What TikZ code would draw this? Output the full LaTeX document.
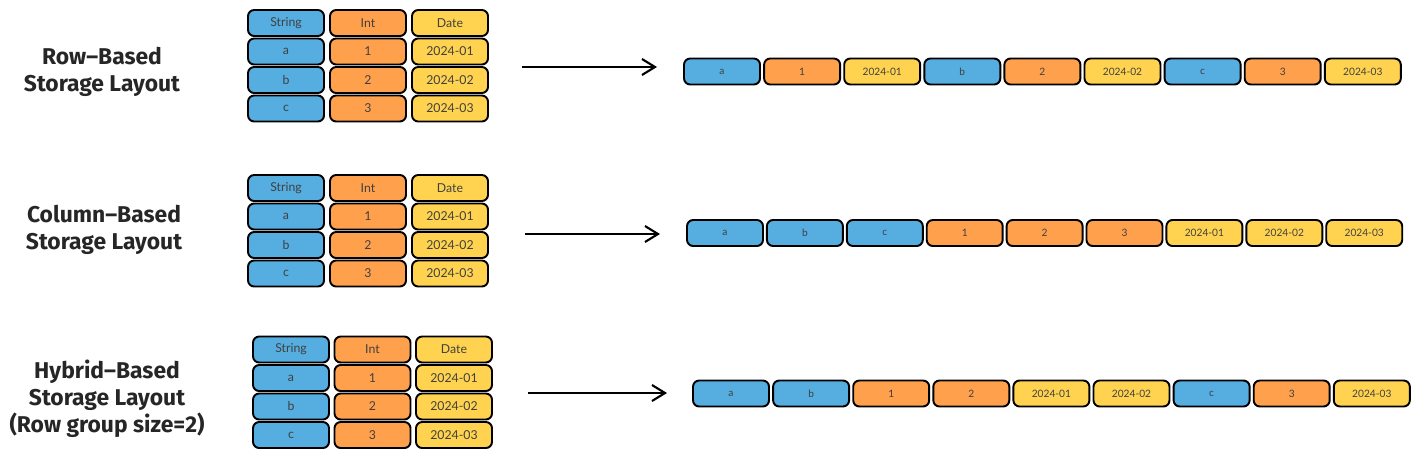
\documentclass[tikz,border=0pt]{standalone}
\usepackage{fontspec}
\setmainfont{Fira Sans}
\newfontfamily\cellfont{Lato}
\usetikzlibrary{arrows.meta,positioning}
\definecolor{cblue}{RGB}{86,173,224}
\definecolor{corange}{RGB}{255,160,76}
\definecolor{cyellow}{RGB}{255,211,79}

\begin{document}
\begin{tikzpicture}[
  x=0.02cm, y=-0.02cm,
  >={Straight Barb[length=2.6mm,width=3.2mm]},
  cell/.style={draw, line width=1.1pt, rounded corners=3.5pt, minimum width=1.52cm,
               minimum height=0.52cm, inner sep=0pt, font=\cellfont\fontsize{7}{8}\selectfont,
               text=black!75},
  slot/.style={cell, font=\cellfont\fontsize{5.8}{7}\selectfont},
  title/.style={align=center, font=\bfseries\fontsize{13}{15.5}\selectfont, text=black!85},
  every edge/.style={draw, ->, line width=1.2pt}
]
  \useasboundingbox (0,0) rectangle (1415,454);

  % left-hand labels
  \node[title] (lrow) at (102,72) {Row--Based\\Storage Layout};
  \node[title] (lcol) at (104,230) {Column--Based\\Storage Layout};
  \node[title] (lhyb) at (107,398.5) {Hybrid--Based\\Storage Layout\\(Row group size=2)};

  % the three source tables
  \foreach \t/\x/\y/\dx in {1/286/23/82, 2/286/188/82, 3/291/349.5/81.5} {
    \foreach \c/\col/\h/\ra/\rb/\rc in {0/cblue/String/a/b/c, 1/corange/Int/1/2/3,
                                       2/cyellow/Date/2024-01/2024-02/2024-03} {
      \node[cell, fill=\col] (t\t-\c-0) at (\x+\c*\dx,\y) {\h};
      \node[cell, fill=\col] (t\t-\c-1) at (\x+\c*\dx,\y+28.5) {\ra};
      \node[cell, fill=\col] (t\t-\c-2) at (\x+\c*\dx,\y+57) {\rb};
      \node[cell, fill=\col] (t\t-\c-3) at (\x+\c*\dx,\y+85.5) {\rc};
    }
  }

  % storage strips
  \foreach \i/\col/\txt [count=\k from 0] in {1/cblue/a, 2/corange/1, 3/cyellow/2024-01,
      4/cblue/b, 5/corange/2, 6/cyellow/2024-02, 7/cblue/c, 8/corange/3, 9/cyellow/2024-03}
    \node[slot, fill=\col] (s1-\i) at (722+\k*80.1,71.5) {\txt};

  \foreach \i/\col/\txt [count=\k from 0] in {1/cblue/a, 2/cblue/b, 3/cblue/c,
      4/corange/1, 5/corange/2, 6/corange/3, 7/cyellow/2024-01, 8/cyellow/2024-02, 9/cyellow/2024-03}
    \node[slot, fill=\col] (s2-\i) at (725+\k*79.9,233) {\txt};

  \foreach \i/\col/\txt [count=\k from 0] in {1/cblue/a, 2/cblue/b, 3/corange/1,
      4/corange/2, 5/cyellow/2024-01, 6/cyellow/2024-02, 7/cblue/c, 8/corange/3, 9/cyellow/2024-03}
    \node[slot, fill=\col] (s3-\i) at (731+\k*80.1,393.5) {\txt};

  % arrows
  \coordinate (a1s) at (522,67);  \coordinate (a1e) at (657,67);
  \coordinate (a2s) at (525,234); \coordinate (a2e) at (660,234);
  \coordinate (a3s) at (528,393); \coordinate (a3e) at (667,393);
  \draw (a1s) edge (a1e);
  \draw (a2s) edge (a2e);
  \draw (a3s) edge (a3e);
\end{tikzpicture}
\end{document}
